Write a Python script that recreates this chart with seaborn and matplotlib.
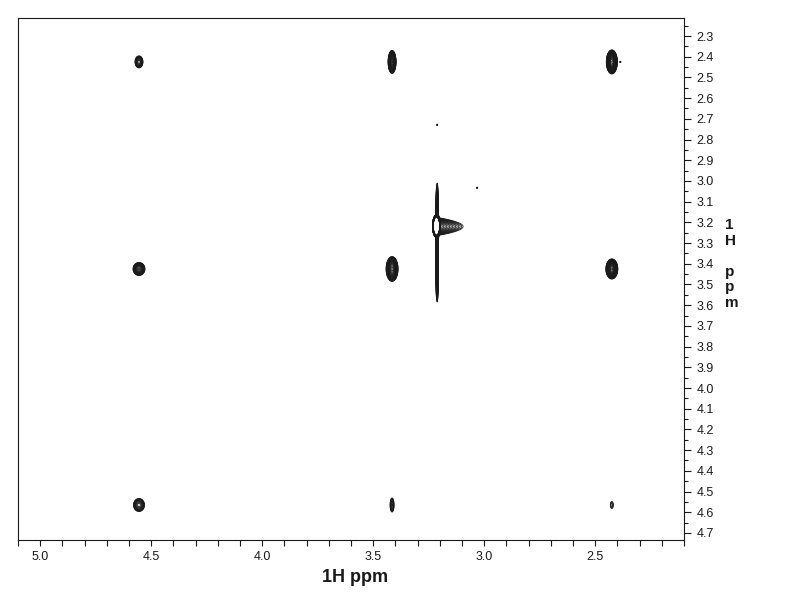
import numpy as np
import matplotlib
matplotlib.use("Agg")
import matplotlib.pyplot as plt
import seaborn as sns
from matplotlib.ticker import MultipleLocator, FormatStrFormatter

sns.set_theme(style="ticks")
plt.rcParams['font.family'] = ['Liberation Sans', 'DejaVu Sans']

# cross/diagonal peaks: centre (ppm), full width at lowest contour (ppm), height (x base level)
peak_x = [4.555, 3.415, 2.425, 4.555, 3.415, 2.425, 4.555, 3.415, 2.425]
peak_y = [2.425, 2.425, 2.425, 3.425, 3.425, 3.425, 4.565, 4.565, 4.565]
peak_wx = [0.036, 0.036, 0.050, 0.054, 0.054, 0.054, 0.050, 0.018, 0.014]
peak_wy = [0.058, 0.111, 0.116, 0.063, 0.120, 0.097, 0.063, 0.068, 0.034]
peak_amp = [6, 40, 60, 10, 30, 40, 5, 3, 1.5]

# strong singlet at 3.21 ppm (clipped above the top contour)
strong_x, strong_y = 3.215, 3.218
strong_wx, strong_wy = 0.036, 0.110
strong_amp = 1e6

# tail of the strong singlet toward lower ppm
tail_x0, tail_y = 3.205, 3.220
tail_len, tail_wy = 0.110, 0.085
tail_amp = 12

# t1 noise ridge through the singlet
ridge_x = 3.212
ridge_y0, ridge_y1 = 3.010, 3.585
ridge_wx = 0.013
ridge_amp = 8

# isolated noise points
dot_x = [3.212, 3.032, 2.387]
dot_y = [2.729, 3.033, 2.425]

x = np.linspace(2.1, 5.1, 2400)
y = np.linspace(2.2, 4.75, 1100)
X, Y = np.meshgrid(x, y)
Z = np.zeros_like(X)


def gauss(x0, y0, wx, wy, amp):
    k = np.sqrt(2 * np.log(amp)) if amp > 1 else 1.0
    sx, sy = wx / 2 / k, wy / 2 / k
    return amp * np.exp(-(X - x0) ** 2 / (2 * sx ** 2) - (Y - y0) ** 2 / (2 * sy ** 2))


for px, py, wx, wy, a in zip(peak_x, peak_y, peak_wx, peak_wy, peak_amp):
    Z += gauss(px, py, wx, wy, a)

Z += gauss(strong_x, strong_y, strong_wx, strong_wy, strong_amp)

lam = tail_len / np.log(tail_amp)
tsy = tail_wy / 2 / np.sqrt(2 * np.log(tail_amp))
d = tail_x0 - X
tail_x = np.where(d >= 0, np.exp(-np.clip(d, 0, None) / lam), np.exp(-d ** 2 / (2 * 0.004 ** 2)))
Z += tail_amp * tail_x * np.exp(-(Y - tail_y) ** 2 / (2 * tsy ** 2))

yc = (ridge_y0 + ridge_y1) / 2
h = (ridge_y1 - ridge_y0) / 2 / np.log(ridge_amp) ** 0.25
rsx = ridge_wx / 2 / np.sqrt(2 * np.log(ridge_amp))
Z += ridge_amp * np.exp(-(X - ridge_x) ** 2 / (2 * rsx ** 2)) * np.exp(-((Y - yc) / h) ** 4)

for dx, dy in zip(dot_x, dot_y):
    Z += gauss(dx, dy, 0.006, 0.006, 1.6)

levels = np.geomspace(1, 200, 36)

fig = plt.figure(figsize=(7.92, 6.12), dpi=100)
ax = fig.add_axes([18 / 792, 72 / 612, 666 / 792, 522 / 612])
ax.contour(X, Y, Z, levels=levels, colors='k', linewidths=0.6)

ax.set_xlim(5.1, 2.1)
ax.set_ylim(4.734, 2.213)
ax.set_facecolor('white')

ax.xaxis.set_major_locator(MultipleLocator(0.5))
ax.xaxis.set_minor_locator(MultipleLocator(0.1))
ax.xaxis.set_major_formatter(FormatStrFormatter('%.1f'))
ax.yaxis.tick_right()
ax.yaxis.set_major_locator(MultipleLocator(0.1))
ax.yaxis.set_minor_locator(MultipleLocator(0.05))
ax.yaxis.set_major_formatter(FormatStrFormatter('%.1f'))

ax.tick_params(axis='x', which='both', direction='out', length=4, width=0.8,
               color='k', labelsize=9, labelcolor='k', pad=4)
ax.tick_params(axis='y', which='major', direction='out', length=5, width=0.8,
               color='k', labelsize=9, labelcolor='k', pad=4)
ax.tick_params(axis='y', which='minor', direction='out', length=3, width=0.8, color='k')

for s in ax.spines.values():
    s.set_color('k')
    s.set_linewidth(0.8)

ax.set_xlabel('1H ppm', fontsize=13, fontweight='bold', color='k')
ax.xaxis.label.set_va('center')
ax.xaxis.set_label_coords((355 - 18) / 666, (540 - 577) / 522)

ax.yaxis.set_label_position('right')
ax.set_ylabel('1\nH\n\np\np\nm', fontsize=11, fontweight='bold', color='k',
              rotation=0, ha='left', va='center', multialignment='left',
              linespacing=1.15)
ax.yaxis.set_label_coords((725 - 18) / 666, 1 - (264 - 18) / 522)

fig.savefig('out.png', dpi=100, facecolor='white')
